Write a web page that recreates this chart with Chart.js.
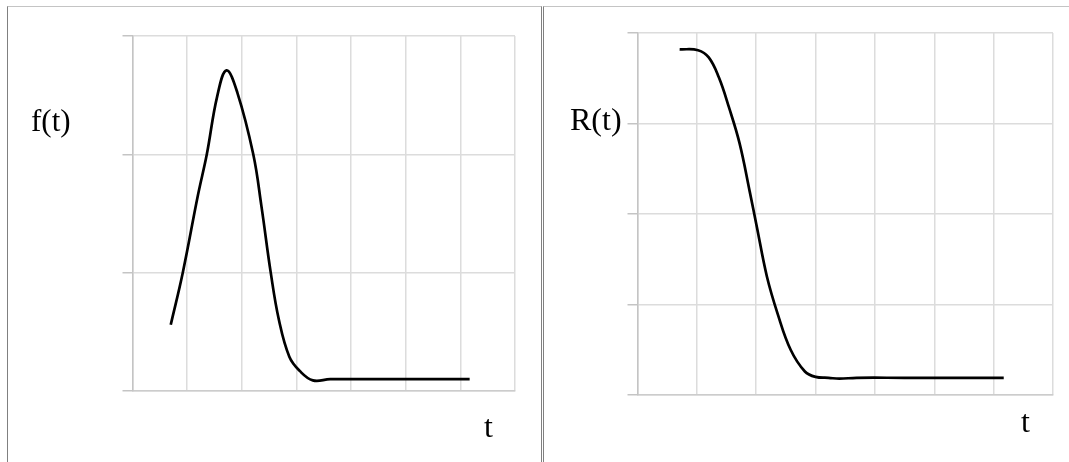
<!DOCTYPE html>
<html lang="en">
<head>
    <meta charset="UTF-8">
    <title>f(t) and R(t)</title>
    <script src="https://cdn.jsdelivr.net/npm/chart.js"></script>
    <style>
        body { margin: 0; background: #fff; width: 1069px; height: 462px; overflow: hidden; position: relative; }
        .panel { position: absolute; top: 6px; height: 470px; border-top: 1px solid #c4c4c4; }
        #panelLeft { left: 7px; width: 533px; border-left: 1px solid #808080; border-right: 1px solid #808080; }
        #panelRight { left: 543px; width: 540px; border-left: 1px solid #808080; }
        canvas { position: absolute; top: 0; }
        .lbl { position: absolute; font-family: "Liberation Serif", "Times New Roman", serif; font-size: 31px; line-height: 1; color: #000; }
    </style>
</head>
<body>
    <div class="panel" id="panelLeft"></div>
    <div class="panel" id="panelRight"></div>
    <canvas id="fChart" width="540" height="462" style="left:0"></canvas>
    <canvas id="rChart" width="528" height="462" style="left:541px"></canvas>
    <div class="lbl" style="left:31px; top:105px;">f(t)</div>
    <div class="lbl" style="left:484px; top:410px; font-size:32px;">t</div>
    <div class="lbl" style="left:570px; top:103px; font-size:32px;">R(t)</div>
    <div class="lbl" style="left:1021px; top:405px; font-size:32px;">t</div>
    <script>
        // failure density f(t)
        const tF = [0.70, 0.92, 1.20, 1.36, 1.55, 1.72, 1.92, 2.21, 2.36, 2.53, 2.68, 2.87, 3.06, 3.30, 3.62, 4.50, 5.30, 6.17];
        const fValues = [0.56, 1.00, 1.66, 2.00, 2.49, 2.71, 2.52, 2.00, 1.56, 1.00, 0.60, 0.29, 0.17, 0.09, 0.10, 0.10, 0.10, 0.10];

        // reliability R(t)
        const tR = [0.71, 1.02, 1.20, 1.37, 1.54, 1.72, 1.89, 2.01, 2.18, 2.36, 2.58, 2.82, 3.00, 3.22, 3.40, 3.69, 4.50, 5.30, 6.17];
        const rValues = [3.82, 3.81, 3.73, 3.51, 3.18, 2.78, 2.25, 1.86, 1.31, 0.90, 0.50, 0.26, 0.20, 0.19, 0.18, 0.19, 0.19, 0.19, 0.19];

        function makeChart(id, xs, ys, yMax, padding) {
            const ctx = document.getElementById(id).getContext('2d');
            return new Chart(ctx, {
                type: 'line',
                data: {
                    datasets: [{
                        data: xs.map((x, i) => ({ x: x, y: ys[i] })),
                        borderColor: '#000',
                        borderWidth: 2.7,
                        pointRadius: 0,
                        fill: false,
                        tension: 0.4
                    }]
                },
                options: {
                    responsive: false,
                    animation: false,
                    layout: { padding: padding },
                    scales: {
                        x: {
                            type: 'linear',
                            min: 0,
                            max: 7,
                            ticks: { display: false, stepSize: 1 },
                            grid: { color: '#dcdcdc', lineWidth: 1.5, drawTicks: false },
                            border: { color: '#cccccc', width: 1.5 }
                        },
                        y: {
                            min: 0,
                            max: yMax,
                            ticks: { display: false, stepSize: 1 },
                            grid: { color: '#dcdcdc', lineWidth: 1.5, tickLength: 10, tickColor: '#c4c4c4' },
                            border: { color: '#c4c4c4', width: 1.5 }
                        }
                    },
                    plugins: {
                        legend: { display: false },
                        tooltip: { enabled: false }
                    }
                }
            });
        }

        makeChart('fChart', tF, fValues, 3, { left: 122.5, right: 25, top: 36, bottom: 71 });
        makeChart('rChart', tR, rValues, 4, { left: 86.5, right: 16, top: 33, bottom: 67 });
    </script>
</body>
</html>
